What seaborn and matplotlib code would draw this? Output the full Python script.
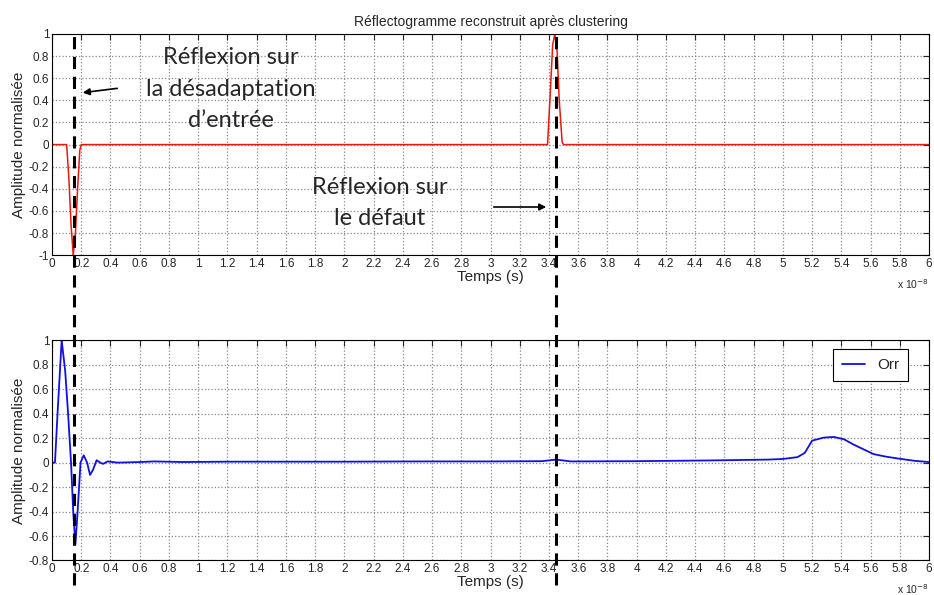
import numpy as np
import pandas as pd
import seaborn as sns
import matplotlib.pyplot as plt
from matplotlib.lines import Line2D
from matplotlib.transforms import blended_transform_factory

# reconstructed reflectogram (top, red), time in units of 1e-8 s
top_t = [0, 0.10, 0.115, 0.13, 0.145, 0.16, 0.175, 0.19, 0.20,
         3.39, 3.41, 3.425, 3.44, 3.455, 3.47, 3.49, 3.50, 6.0]
top_amp = [0, 0, -0.3, -0.72, -1.0, -0.8, -0.4, -0.05, 0,
           0, 0.5, 0.9, 1.0, 0.85, 0.4, 0.02, 0, 0]

# measured reflectogram "Orr" (bottom, blue)
bot_t = [0, 0.02, 0.04, 0.066, 0.09, 0.11, 0.13, 0.145, 0.16, 0.175, 0.195,
         0.217, 0.24, 0.26, 0.28, 0.305, 0.33, 0.35, 0.38, 0.45, 0.6, 0.7,
         0.9, 1.2, 1.6, 2.0, 2.5, 3.0, 3.35, 3.45, 3.55, 4.0, 4.5, 4.9,
         5.0, 5.1, 5.15, 5.2, 5.28, 5.35, 5.42, 5.48, 5.55, 5.62, 5.7,
         5.78, 5.9, 6.0]
bot_amp = [0, 0, 0.45, 1.0, 0.75, 0.4, 0.0, -0.4, -0.67, -0.4, 0.0,
           0.06, 0.0, -0.1, -0.06, 0.02, 0.0, -0.01, 0.01, 0.0, 0.005, 0.01,
           0.005, 0.008, 0.008, 0.008, 0.01, 0.01, 0.012, 0.025, 0.01, 0.012, 0.018, 0.025,
           0.03, 0.045, 0.08, 0.18, 0.205, 0.21, 0.19, 0.15, 0.11, 0.07, 0.05,
           0.035, 0.015, 0.005]

df_top = pd.DataFrame({"t": top_t, "amp": top_amp})
df_bot = pd.DataFrame({"t": bot_t, "amp": bot_amp})

sns.set_style("white")
plt.rcParams["font.family"] = ["Liberation Sans", "DejaVu Sans"]
plt.rcParams["xtick.direction"] = "in"
plt.rcParams["ytick.direction"] = "in"


def fmt(v):
    v = round(float(v), 1)
    return "%g" % (0.0 if v == 0 else v)


fig = plt.figure(figsize=(9.34, 5.95), dpi=100)
ax1 = fig.add_axes([0.0557, 0.571, 0.939, 0.372])
ax2 = fig.add_axes([0.0557, 0.058, 0.939, 0.370])

sns.lineplot(data=df_top, x="t", y="amp", ax=ax1, color="#e8190f", lw=1.1)
sns.lineplot(data=df_bot, x="t", y="amp", ax=ax2, color="#1010e0", lw=1.3, label="Orr")

for ax, ylo in [(ax1, -1), (ax2, -0.8)]:
    yt = np.arange(ylo, 1.01, 0.2)
    xt = np.arange(0, 6.01, 0.2)
    ax.set_xlim(0, 6)
    ax.set_ylim(ylo, 1)
    ax.set_xticks(xt)
    ax.set_xticklabels([fmt(v) for v in xt])
    ax.set_yticks(yt)
    ax.set_yticklabels([fmt(v) for v in yt])
    ax.grid(True, linestyle=":", color="#888888", lw=0.9)
    ax.tick_params(labelsize=8.5, length=4, top=True, right=True, pad=2)
    for s in ax.spines.values():
        s.set_linewidth(0.8)
        s.set_color("black")
    ax.set_xlabel("Temps (s)", fontsize=11, labelpad=0)
    ax.set_ylabel("Amplitude normalisée", fontsize=11, labelpad=2)
    ax.text(1.0, -0.1, r"x 10$^{-8}$", transform=ax.transAxes, ha="right",
            va="top", fontsize=7.5)

ax1.set_title("Réflectogramme reconstruit après clustering", fontsize=10, pad=6)

leg = ax2.legend(loc="upper right", fontsize=11, handlelength=1.5,
                 borderpad=0.6, fancybox=False, framealpha=1,
                 edgecolor="black", bbox_to_anchor=(0.985, 0.995))
leg.get_frame().set_linewidth(0.8)

# dashed markers crossing both panels
tr = blended_transform_factory(ax1.transData, fig.transFigure)
for xv in [0.15, 3.45]:
    fig.add_artist(Line2D([xv, xv], [0.017, 0.943], transform=tr, color="black",
                          lw=2.2, ls=(0, (4, 2.5))))

ann = dict(fontsize=17, family=["Lato", "DejaVu Sans"], ha="center", va="center",
           linespacing=1.6)
fig.text(231 / 934, 1 - 89 / 595, "Réflexion sur\nla désadaptation\nd’entrée", **ann)
fig.text(380 / 934, 1 - 203 / 595, "Réflexion sur\nle défaut", **ann)
fig.add_artist(plt.Annotation("", xy=(80 / 934, 1 - 93 / 595), xycoords="figure fraction",
                              xytext=(120 / 934, 1 - 88 / 595), textcoords="figure fraction",
                              arrowprops=dict(arrowstyle="-|>", color="black", lw=1.2,
                                              mutation_scale=10)))
fig.add_artist(plt.Annotation("", xy=(549 / 934, 1 - 207 / 595), xycoords="figure fraction",
                              xytext=(491 / 934, 1 - 207 / 595), textcoords="figure fraction",
                              arrowprops=dict(arrowstyle="-|>", color="black", lw=1.2,
                                              mutation_scale=10)))

fig.savefig("out.png", dpi=100)
